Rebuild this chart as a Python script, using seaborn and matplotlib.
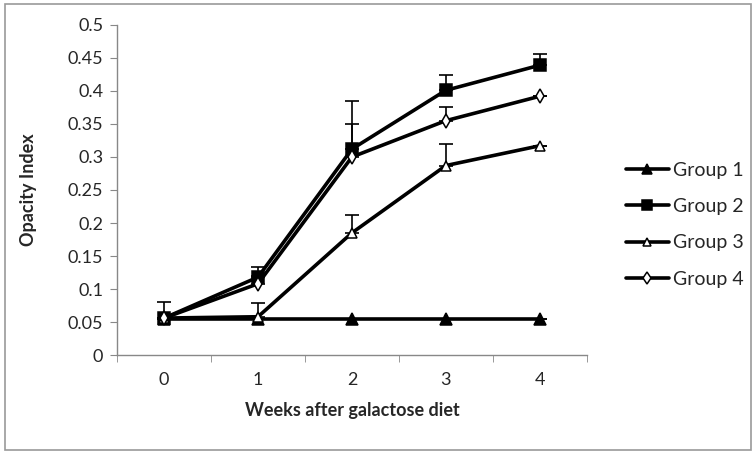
import matplotlib
matplotlib.use("Agg")
import matplotlib.pyplot as plt
import matplotlib.patches as mpatches
import seaborn as sns
import numpy as np
import pandas as pd

weeks = [0, 1, 2, 3, 4]
groups = ["Group 1", "Group 2", "Group 3", "Group 4"]

group1 = [0.055, 0.055, 0.055, 0.055, 0.055]
group2 = [0.056, 0.118, 0.312, 0.401, 0.439]
group3 = [0.056, 0.058, 0.185, 0.287, 0.317]
group4 = [0.056, 0.108, 0.300, 0.355, 0.392]

# upper error bars only (SD)
err1 = [0.0, 0.0, 0.0, 0.0, 0.0]
err2 = [0.024, 0.016, 0.073, 0.023, 0.017]
err3 = [0.0, 0.021, 0.027, 0.033, 0.0]
err4 = [0.0, 0.012, 0.050, 0.021, 0.0]

values = [group1, group2, group3, group4]
errors = [err1, err2, err3, err4]

df = pd.DataFrame({
    "week": weeks * 4,
    "group": np.repeat(groups, len(weeks)),
    "opacity": np.concatenate(values),
})

sns.set_style("white")
plt.rcParams["font.family"] = ["Lato", "DejaVu Sans"]

fig = plt.figure(figsize=(7.56, 4.54), dpi=100)
ax = fig.add_axes([0.155, 0.218, 0.621, 0.727])

markers = {"Group 1": "^", "Group 2": "s", "Group 3": "^", "Group 4": "d"}
faces = {"Group 1": "black", "Group 2": "black", "Group 3": "white", "Group 4": "white"}
sizes = {"Group 1": 8, "Group 2": 9, "Group 3": 7.5, "Group 4": 7}

# error bars first so markers sit on top
for g, v, e in zip(groups, values, errors):
    ax.errorbar(weeks, v, yerr=[np.zeros(len(e)), e], fmt="none",
                ecolor="black", elinewidth=1.2, capsize=5, capthick=1.2, zorder=2)

for g in groups:
    sub = df[df["group"] == g]
    sns.lineplot(data=sub, x="week", y="opacity", ax=ax, color="black",
                 linewidth=2.6, marker=markers[g], markersize=sizes[g],
                 markerfacecolor=faces[g], markeredgecolor="black",
                 markeredgewidth=1.1, zorder=3, label=g)

ax.set_xlim(-0.5, 4.5)
ax.set_ylim(0, 0.5)
ax.set_yticks(np.arange(0, 0.51, 0.05))
ax.set_yticklabels(["0", "0.05", "0.1", "0.15", "0.2", "0.25", "0.3",
                    "0.35", "0.4", "0.45", "0.5"])
ax.set_xticks(weeks)
ax.set_xticks(np.arange(-0.5, 4.6, 1), minor=True)
ax.tick_params(axis="x", which="major", length=0, pad=12, labelsize=13)
ax.tick_params(axis="x", which="minor", length=5, color="#888888", direction="out", bottom=True)
ax.tick_params(axis="y", length=5, color="#888888", direction="out", labelsize=13, pad=5, left=True)

for s in ["top", "right"]:
    ax.spines[s].set_visible(False)
for s in ["left", "bottom"]:
    ax.spines[s].set_color("#888888")
    ax.spines[s].set_linewidth(1.0)

ax.set_xlabel("Weeks after galactose diet", fontsize=13, fontweight="bold", labelpad=10)
ax.set_ylabel("Opacity Index", fontsize=13, fontweight="bold", labelpad=22)

h, l = ax.get_legend_handles_labels()
ax.legend_.remove()
fig.legend(h, l, loc="center left", bbox_to_anchor=(0.805, 0.505), frameon=False,
           fontsize=14, handlelength=2.2, labelspacing=1.0, handletextpad=0.2,
           markerscale=0.85)

fig.patches.append(mpatches.Rectangle((0.006, 0.008), 0.988, 0.984, transform=fig.transFigure,
                                      fill=False, edgecolor="#999999", linewidth=1.2))

fig.savefig("out.png", dpi=100)
